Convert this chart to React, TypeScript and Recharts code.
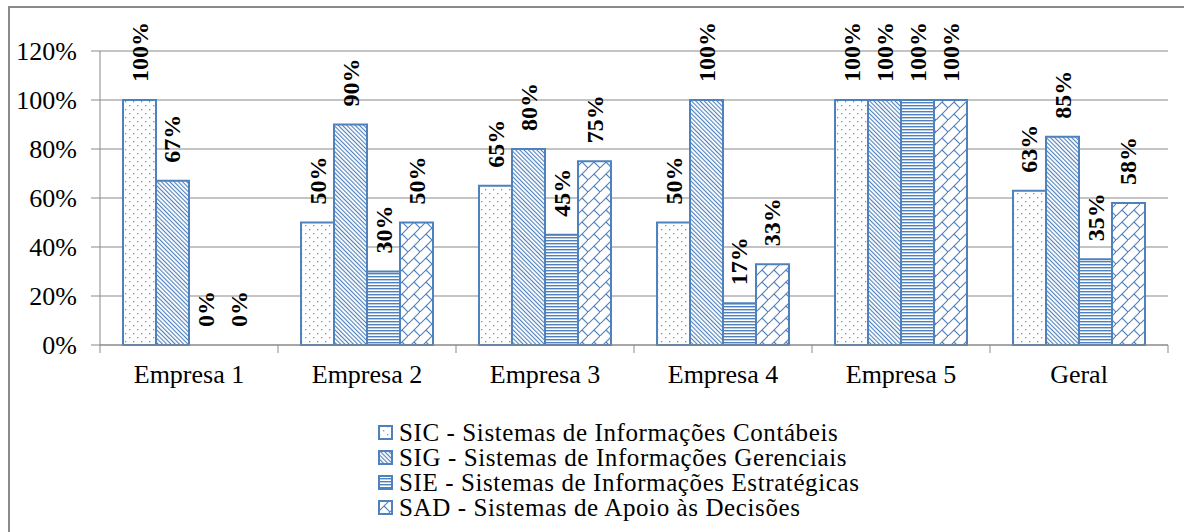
import React from "react"
import { BarChart, Bar, Cell, XAxis, YAxis, CartesianGrid, LabelList, Legend } from "recharts"

const empresas = ["Empresa 1", "Empresa 2", "Empresa 3", "Empresa 4", "Empresa 5", "Geral"]
const sicValues = [1, 0.5, 0.65, 0.5, 1, 0.63]
const sigValues = [0.67, 0.9, 0.8, 1, 1, 0.85]
const sieValues = [0, 0.3, 0.45, 0.17, 1, 0.35]
const sadValues = [0, 0.5, 0.75, 0.33, 1, 0.58]
const yTicks = [0, 0.2, 0.4, 0.6, 0.8, 1, 1.2]

const series = [
  { key: "sic", name: "SIC - Sistemas de Informações Contábeis", pattern: "pat-dots", values: sicValues },
  { key: "sig", name: "SIG - Sistemas de Informações Gerenciais", pattern: "pat-diag", values: sigValues },
  { key: "sie", name: "SIE - Sistemas de Informações Estratégicas", pattern: "pat-horiz", values: sieValues },
  { key: "sad", name: "SAD - Sistemas de Apoio às Decisões", pattern: "pat-brick", values: sadValues },
]

const data = empresas.map((name, i) => ({
  name,
  sic: sicValues[i],
  sig: sigValues[i],
  sie: sieValues[i],
  sad: sadValues[i],
}))

const WIDTH = 1184
const HEIGHT = 532
const MARGIN = { top: 51, right: 16, left: 0, bottom: 127 }
const Y_AXIS_WIDTH = 100
const BAND = (WIDTH - MARGIN.left - MARGIN.right - Y_AXIS_WIDTH) / empresas.length

const BLUE = "#4F81BD"
const GRID = "#898989"
const FONT = '"Liberation Serif", "Times New Roman", serif'

const pct = (v: number) => `${Math.round(v * 100)}%`

// rotated bold value above each bar
const renderBarLabel = (props: any) => {
  const { x, y, width, height, value } = props
  const cx = Number(x) + Number(width) / 2
  // zero bars get a tiny min height so they still carry a label; use the base line
  const top = Number(value) === 0 ? Number(y) + Number(height) : Number(y)
  const ty = top - 18
  return (
    <text
      x={cx}
      y={ty}
      transform={`rotate(-90 ${cx} ${ty})`}
      textAnchor="start"
      dominantBaseline="central"
      fontFamily={FONT}
      fontWeight="bold"
      fontSize={24}
      fill="#000"
    >
      {pct(Number(value))}
    </text>
  )
}

// category label, with tick marks on the band edges instead of the centre
const CategoryTick = (props: any) => {
  const { x, y, payload, index } = props
  const left = x - BAND / 2
  const right = x + BAND / 2
  return (
    <g>
      <line x1={left} y1={y} x2={left} y2={y + 8} stroke={GRID} />
      {index === empresas.length - 1 && <line x1={right} y1={y} x2={right} y2={y + 8} stroke={GRID} />}
      <text x={x} y={y + 38} textAnchor="middle" fontFamily={FONT} fontSize={26} fill="#000">
        {payload.value}
      </text>
    </g>
  )
}

const renderLegend = () => (
  <div style={{ fontFamily: FONT, fontSize: 25, lineHeight: "25.5px", letterSpacing: 0.6, color: "#000" }}>
    {series.map((s) => (
      <div key={s.key} style={{ display: "flex", alignItems: "center", whiteSpace: "nowrap", height: 25 }}>
        <svg width={15} height={15} style={{ marginRight: 6, flex: "none" }}>
          <rect x={1} y={1} width={13} height={13} fill={`url(#${s.pattern})`} stroke={BLUE} strokeWidth={2} />
        </svg>
        <span>{s.name}</span>
      </div>
    ))}
  </div>
)

export default function App() {
  return (
    <div
      style={{
        position: "absolute",
        left: 0,
        top: 0,
        width: WIDTH,
        height: HEIGHT,
        overflow: "hidden",
        background: "#fff",
      }}
    >
      <div
        style={{
          position: "absolute",
          left: 8,
          top: 6,
          width: 1300,
          height: 700,
          border: "2px solid #8a8a8a",
        }}
      />
      <BarChart
        width={WIDTH}
        height={HEIGHT}
        data={data}
        margin={MARGIN}
        barCategoryGap={23}
        barGap={0}
      >
        <defs>
          <pattern id="pat-dots" width={8} height={8} patternUnits="userSpaceOnUse">
            <rect width={8} height={8} fill="#fff" />
            <rect x={1} y={1} width={1.3} height={1.3} fill="#6f97cc" />
            <rect x={5} y={5} width={1.3} height={1.3} fill="#6f97cc" />
          </pattern>
          <pattern
            id="pat-diag"
            width={3}
            height={3}
            patternUnits="userSpaceOnUse"
            patternTransform="rotate(-45)"
          >
            <rect width={3} height={3} fill="#fff" />
            <rect width={1.1} height={3} fill={BLUE} />
          </pattern>
          <pattern id="pat-horiz" width={3} height={3} patternUnits="userSpaceOnUse">
            <rect width={3} height={3} fill="#fff" />
            <rect width={3} height={1.4} fill={BLUE} />
          </pattern>
          <pattern id="pat-brick" width={12} height={12} patternUnits="userSpaceOnUse">
            <rect width={12} height={12} fill="#fff" />
            <path d="M-1,13 L13,-1 M6,6 L12,12" stroke={BLUE} strokeWidth={1.1} fill="none" />
          </pattern>
        </defs>
        <CartesianGrid vertical={false} stroke={GRID} />
        <XAxis
          dataKey="name"
          height={60}
          axisLine={{ stroke: GRID }}
          tickLine={false}
          tickSize={0}
          tickMargin={0}
          interval={0}
          tick={<CategoryTick />}
        />
        <YAxis
          width={Y_AXIS_WIDTH}
          domain={[0, 1.2]}
          ticks={yTicks}
          tickFormatter={pct}
          axisLine={{ stroke: GRID }}
          tickLine={{ stroke: GRID }}
          tickSize={9}
          tickMargin={14}
          tick={{ fontFamily: FONT, fontSize: 26, fill: "#000" }}
        />
        <Legend
          layout="vertical"
          align="center"
          verticalAlign="middle"
          content={renderLegend}
          wrapperStyle={{ left: 378, top: 420, width: "auto" }}
        />
        {series.map((s) => (
          <Bar
            key={s.key}
            dataKey={s.key}
            name={s.name}
            fill={`url(#${s.pattern})`}
            stroke={BLUE}
            strokeWidth={2}
            minPointSize={(v: number) => (v === 0 ? 0.5 : 0)}
            isAnimationActive={false}
          >
            {s.values.map((v, i) => (
              <Cell
                key={`cell-${s.key}-${i}`}
                fill={v === 0 ? "none" : `url(#${s.pattern})`}
                stroke={v === 0 ? "none" : BLUE}
              />
            ))}
            <LabelList dataKey={s.key} content={renderBarLabel} />
          </Bar>
        ))}
      </BarChart>
    </div>
  )
}
